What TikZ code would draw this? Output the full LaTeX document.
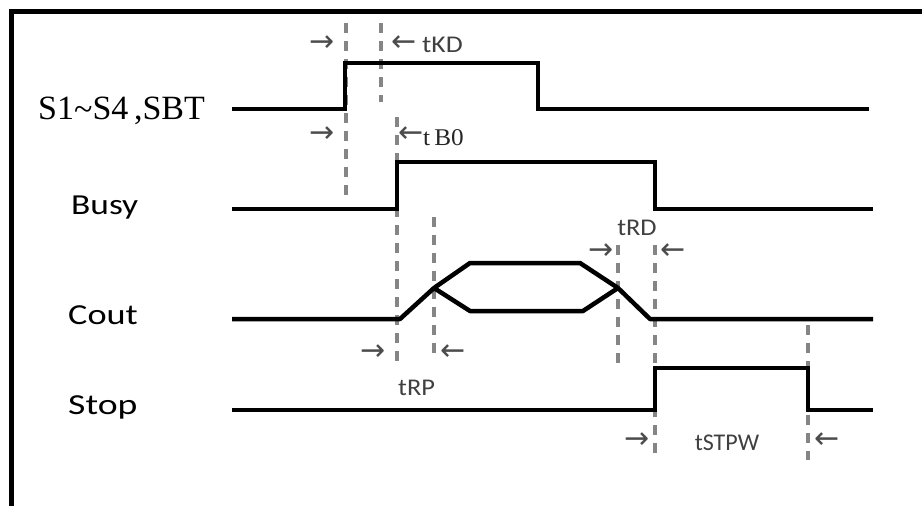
\documentclass[tikz,border=0pt]{standalone}
\usepackage{fontspec}
\setmainfont{Liberation Serif}
\newfontfamily\lblfont{Carlito}
\newfontfamily\arrfont{DejaVu Sans}
\newcommand\rarr{\scalebox{1.5}{→}}
\newcommand\larr{\scalebox{1.5}{←}}
\begin{document}
\begin{tikzpicture}[x=1pt,y=-1pt,
  sig/.style={line width=4.5pt, black},
  guide/.style={line width=4pt, draw=black!48, dash pattern=on 10pt off 8pt},
  big/.style={anchor=base west, inner sep=0pt, text=black, font=\lblfont\fontsize{29}{29}\selectfont},
  small/.style={anchor=base west, inner sep=0pt, text=black!75, font=\lblfont\fontsize{24}{24}\selectfont},
  arr/.style={inner sep=0pt, text=black!70, font=\arrfont\fontsize{20}{20}\selectfont}]
\useasboundingbox (0,0) rectangle (922,506);
% frame (top and left edges)
\draw[line width=5pt] (11.5,508) -- (11.5,11.5) -- (924,11.5);

% guide lines
\draw[guide] (346,23) -- (346,202);
\draw[guide] (381,23) -- (381,102);
\draw[guide] (397,117) -- (397,362);
\draw[guide] (434,217) -- (434,360);
\draw[guide] (618,245) -- (618,367);
\draw[guide] (655,245) -- (655,460);
\draw[guide] (808,325) -- (808,460);

% signals
\draw[sig] (232,109) -- (345,109) -- (345,63) -- (538,63) -- (538,109) -- (869,109);
\draw[sig] (232,209) -- (397,209) -- (397,162) -- (655,162) -- (655,209) -- (873,209);
\draw[sig, line join=round] (232,319) -- (400,319) -- (434,288) -- (470,263) -- (580,263) -- (618,288) -- (650,319) -- (873,319);
\draw[sig, line join=round] (434,288) -- (470,311) -- (583,311) -- (618,288);
\draw[sig] (232,410) -- (655,410) -- (655,368) -- (808,368) -- (808,410) -- (873,410);

% signal names
\node[anchor=base west, inner sep=0pt, text=black, font=\fontsize{34}{34}\selectfont] (ls) at (38,119) {S1\raisebox{-1pt}{\textasciitilde}S4\,,SBT};
\node[big] (lb) at (71,214) {\scalebox{1.22}[1]{Busy}};
\node[big] (lc) at (68,324) {\scalebox{1.25}[1]{Cout}};
\node[big] (lp) at (68,414) {\scalebox{1.3}[1]{Stop}};

% timing labels
\node[arr] (a1) at (322,44) {\rarr};
\node[arr] (a2) at (404,44) {\larr};
\node[small] (tkd) at (422,52) {\scalebox{1.15}[1]{tKD}};

\node[arr] (b1) at (322,135) {\rarr};
\node[arr] (b2) at (411,135) {\larr};
\node[anchor=base west, inner sep=0pt, text=black!85, font=\fontsize{24}{24}\selectfont] (tbo) at (423,145) {\scalebox{1.05}[1]{t\,B0}};

\node[arr] (c1) at (373,353) {\rarr};
\node[arr] (c2) at (453,353) {\larr};
\node[small] (trp) at (398,395) {\scalebox{1.1}[1]{tRP}};

\node[small, anchor=base] (trd) at (637,235) {\scalebox{1.1}[1]{tRD}};
\node[arr] (d1) at (601,252) {\rarr};
\node[arr] (d2) at (673,252) {\larr};

\node[arr] (e1) at (637,441) {\rarr};
\node[small, anchor=base] (tst) at (727,450) {\scalebox{1.0}[1]{tSTPW}};
\node[arr] (e2) at (827,441) {\larr};
\end{tikzpicture}
\end{document}
